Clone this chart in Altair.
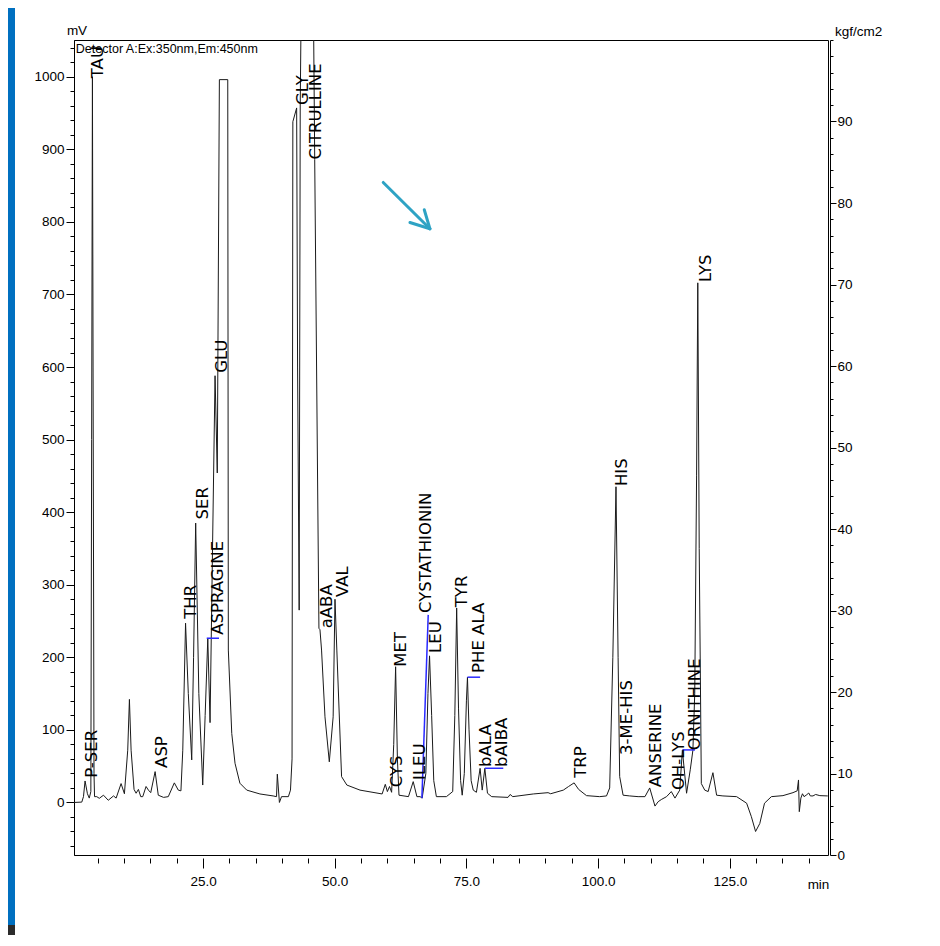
import altair as alt
import pandas as pd

# ---------------- data ----------------
# retention time (min) and detector signal (mV)
trace_t = [0.5, 1.98, 2.3, 2.6, 3.05, 3.4, 3.7, 3.85, 4.0, 4.12, 4.3, 4.4, 4.83, 5.3, 6.1, 7.0,
           8.0, 8.5, 9.44, 10.07, 10.7, 11.02, 11.34, 11.9, 12.29, 12.73, 13.17, 13.55, 14.18,
           14.63, 15.07, 15.9, 16.5, 17.5, 18.4, 19.55, 20.3, 20.8, 21.15, 21.68, 22.2, 22.85,
           23.2, 23.6, 24.2, 24.94, 25.4, 25.9, 26.33, 26.8, 27.28, 27.7, 28.1, 29.69, 29.8,
           30.45, 31.07, 32.0, 33.3, 35.8, 38.3, 38.95, 39.1, 39.5, 39.9, 41.2, 41.6, 41.9,
           42.05, 42.77, 42.95, 43.25, 43.45, 43.7, 45.9, 46.2, 47.0, 47.2, 47.5, 48.15, 48.97,
           49.7, 50.05, 50.4, 51.3, 52.3, 54.8, 59.0, 59.6, 60.0, 60.4, 60.8, 61.2, 61.56, 61.9,
           62.2, 64.0, 64.9, 65.6, 66.2, 66.6, 67.3, 67.7, 68.0, 68.4, 68.8, 69.3, 71.2, 72.4,
           72.8, 73.15, 73.5, 73.9, 74.2, 74.6, 75.0, 75.2, 75.5, 75.9, 76.3, 76.9, 77.6, 78.0,
           78.5, 79.0, 79.8, 82.9, 83.3, 83.8, 87.7, 90.5, 91.0, 93.4, 94.4, 95.45, 96.3, 97.8,
           100.3, 101.6, 102.2, 102.8, 103.4, 103.8, 104.1, 104.75, 106.0, 107.6, 108.9, 109.8,
           110.8, 111.4, 112.0, 113.0, 113.9, 114.6, 115.5, 116.0, 116.8, 117.5, 118.0, 118.35,
           118.7, 118.93, 119.2, 119.6, 120.25, 120.9, 121.8, 122.5, 123.7, 126.3, 128.2, 129.1,
           129.9, 130.7, 131.6, 132.9, 135.1, 137.0, 137.8, 138.05, 138.2, 138.5, 138.8, 139.1,
           139.5, 140.0, 140.3, 140.8, 141.3, 142.1, 143.6]
trace_mv = [0, 0.5, 8, 29.6, 12, 6, 15, 500, 1000, 600, 40, 8, 8, 5.7, 10, 3,
            9, 6, 26, 12, 72, 142, 72, 18, 12.7, 18, 8, 8, 22,
            17, 13.5, 42.5, 10, 7, 8, 27, 17, 16, 72, 247, 150, 58.6,
            200, 385, 150, 24, 120, 226, 110, 350, 588, 454, 996, 996, 210,
            95, 54, 26.5, 17, 11.7, 9, 8, 39, 0, 8, 8, 17, 60,
            938, 957, 600, 265, 961, 1150, 1150, 886, 240, 238, 210, 118, 56,
            118, 280, 210, 35.6, 24, 17, 11.7, 25, 15, 22, 14, 80, 187, 60,
            10, 8, 28.7, 8, 8, 6, 40, 150, 202, 120, 30, 8, 8, 15,
            120, 268, 130, 30, 10, 40, 140, 172.5, 100, 30, 17, 14, 47, 17,
            47, 12.7, 8, 7, 11, 8, 11.7, 13.5, 12, 17, 22, 27, 18, 9.4,
            8, 9, 20, 200, 435, 200, 35.6, 10, 9, 8, 8, 20,
            -5, 1, 4, 8, 15, 6, 17, 72, 12.7, 45, 72, 150,
            450, 716, 350, 26, 17, 15, 41, 10, 9, 8, -1, -19.6,
            -40, -29, -1, 8, 9.4, 13.5, 16, 31, -12.7, 6, 12, 8,
            10, 13, 9, 9, 11, 9.4, 9]

# peak names and where their labels start
peak_names = ["TAU", "P-SER", "ASP", "THR", "SER", "ASPRAGINE", "GLU", "GLY", "CITRULLINE",
              "aABA", "VAL", "CYS", "MET", "ILEU", "CYSTATHIONIN", "LEU", "TYR", "PHE ALA",
              "bALA", "bAIBA", "TRP", "HIS", "3-ME-HIS", "ANSERINE", "OH-LYS", "ORNITHINE", "LYS"]
label_t = [5.08, 3.94, 17.2, 22.8, 24.9, 27.85, 28.6, 44.0, 46.45,
           48.5, 51.5, 61.8, 62.6, 66.2, 67.4, 69.2, 74.2, 77.3,
           78.8, 81.8, 96.8, 104.5, 105.4, 111.0, 115.3, 118.4, 120.4]
label_mv = [998, 34, 47.6, 253, 390, 231, 592, 961, 886,
            240, 283, 21, 187, 31, 261, 206, 269, 178.5,
            49, 49, 34, 436, 65.5, 21, 17, 72, 717]

# blue integration marks (start/end of each segment)
blue_t1 = [25.7, 66.55, 75.2, 78.5, 116.0]
blue_mv1 = [226.3, 6, 172.6, 47.1, 72.4]
blue_t2 = [28.03, 67.75, 77.6, 82.0, 118.4]
blue_mv2 = [226.3, 258.5, 172.6, 47.1, 72.4]

# annotation arrow (shaft and two barbs)
arrow_t1 = [59.21, 64.28, 67.0]
arrow_mv1 = [854.3, 799.2, 816.7]
arrow_t2 = [68.07, 68.07, 68.07]
arrow_mv2 = [790.5, 790.5, 790.5]

x_major = [25, 50, 75, 100, 125]
x_minor = [5, 10, 15, 20, 30, 35, 40, 45, 55, 60, 65, 70, 80, 85, 90, 95, 105, 110, 115, 120, 130, 135, 140]
y_major = [0, 100, 200, 300, 400, 500, 600, 700, 800, 900, 1000]
y_minor = [-60, -40, -20, 20, 40, 60, 80, 120, 140, 160, 180, 220, 240, 260, 280, 320, 340, 360, 380,
           420, 440, 460, 480, 520, 540, 560, 580, 620, 640, 660, 680, 720, 740, 760, 780,
           820, 840, 860, 880, 920, 940, 960, 980, 1020, 1040]
p_major = [0, 10, 20, 30, 40, 50, 60, 70, 80, 90]
p_minor = [2, 4, 6, 8, 12, 14, 16, 18, 22, 24, 26, 28, 32, 34, 36, 38, 42, 44, 46, 48, 52, 54, 56, 58,
           62, 64, 66, 68, 72, 74, 76, 78, 82, 84, 86, 88, 92, 94, 96, 98, 100]

# ---------------- chart ----------------
W, H = 754, 815
X_DOMAIN = [0.5, 143.65]
Y_DOMAIN = [-72.4, 1050.6]
NARROW = "Liberation Sans"
LABEL_FONT = "DejaVu Sans"
TICK_FS = 13.5

xs = alt.Scale(domain=X_DOMAIN, nice=False, zero=False)
ys = alt.Scale(domain=Y_DOMAIN, nice=False, zero=False)

trace_df = pd.DataFrame({"t": trace_t, "mv": trace_mv, "i": list(range(len(trace_t)))})
labels_df = pd.DataFrame({"name": peak_names, "t": label_t, "mv": label_mv})
blue_df = pd.DataFrame({"t": blue_t1, "mv": blue_mv1, "t2": blue_t2, "mv2": blue_mv2})
arrow_df = pd.DataFrame({"t": arrow_t1, "mv": arrow_mv1, "t2": arrow_t2, "mv2": arrow_mv2})
det_df = pd.DataFrame({"t": [0.85], "mv": [1047.0], "txt": ["Detector A:Ex:350nm,Em:450nm"]})

x_axis = alt.Axis(values=x_major, format=".1f", orient="bottom", domain=False, offset=3,
                  tickSize=10, tickColor="black", labelFont=NARROW, labelFontSize=TICK_FS,
                  labelColor="black", labelPadding=6, grid=False, title="min",
                  titleFont=NARROW, titleFontSize=TICK_FS, titleFontWeight="normal",
                  titleColor="black", titleX=744, titleY=26, titleAlign="center",
                  titleBaseline="middle")
y_axis = alt.Axis(values=y_major, format="d", orient="left", domain=True, domainColor="black",
                  tickSize=8, tickColor="black", labelFont=NARROW, labelFontSize=TICK_FS,
                  labelColor="black", labelPadding=2, grid=False, title="mV",
                  titleFont=NARROW, titleFontSize=TICK_FS, titleFontWeight="normal",
                  titleColor="black", titleAngle=0, titleX=2.5, titleY=-10,
                  titleAlign="center", titleBaseline="middle")

trace = alt.Chart(trace_df).mark_line(color="#1a1a1a", strokeWidth=1, clip=True).encode(
    x=alt.X("t:Q", scale=xs, axis=x_axis),
    y=alt.Y("mv:Q", scale=ys, axis=y_axis),
    order="i:Q",
)

blue = alt.Chart(blue_df).mark_rule(color="#2a2aff", strokeWidth=1.5).encode(
    x=alt.X("t:Q", scale=xs), y=alt.Y("mv:Q", scale=ys), x2="t2:Q", y2="mv2:Q")

arrow = alt.Chart(arrow_df).mark_rule(color="#2ea3c4", strokeWidth=3, strokeCap="round").encode(
    x=alt.X("t:Q", scale=xs), y=alt.Y("mv:Q", scale=ys), x2="t2:Q", y2="mv2:Q")

labels = alt.Chart(labels_df).mark_text(angle=270, align="left", baseline="middle",
                                        font=LABEL_FONT, fontSize=16.5, color="black").encode(
    x=alt.X("t:Q", scale=xs), y=alt.Y("mv:Q", scale=ys), text="name:N")

det = alt.Chart(det_df).mark_text(align="left", baseline="top", font=NARROW, fontSize=12.5,
                                  color="black").encode(
    x=alt.X("t:Q", scale=xs), y=alt.Y("mv:Q", scale=ys), text="txt:N")

main = alt.layer(trace, blue, arrow, labels, det)

dummy = pd.DataFrame({"t": [1.0], "mv": [0.0], "p": [0.0]})

minor = alt.Chart(dummy).mark_point(opacity=0).encode(
    x=alt.X("t:Q", scale=xs, axis=alt.Axis(values=x_minor, orient="bottom", labels=False,
                                           domain=False, offset=3, tickSize=5, tickColor="black",
                                           grid=False, title=None)),
    y=alt.Y("mv:Q", scale=ys, axis=alt.Axis(values=y_minor, orient="left", labels=False,
                                            domain=False, tickSize=4, tickColor="black",
                                            grid=False, title=None)),
)

right = alt.Chart(dummy).mark_point(opacity=0).encode(
    y=alt.Y("p:Q", scale=alt.Scale(domain=[0, 100], nice=False, zero=False),
            axis=alt.Axis(values=p_major, orient="right", offset=2, domain=True,
                          domainColor="black", tickSize=6, tickColor="black",
                          labelFont=NARROW, labelFontSize=TICK_FS, labelColor="black",
                          labelPadding=1, grid=False, title="kgf/cm2", titleFont=NARROW,
                          titleFontSize=TICK_FS, titleFontWeight="normal", titleColor="black",
                          titleAngle=0, titleX=28, titleY=-9, titleAlign="center",
                          titleBaseline="middle")),
)

right_minor = alt.Chart(dummy).mark_point(opacity=0).encode(
    y=alt.Y("p:Q", scale=alt.Scale(domain=[0, 100], nice=False, zero=False),
            axis=alt.Axis(values=p_minor, orient="right", offset=2, domain=False, labels=False,
                          tickSize=3, tickColor="black", grid=False, title=None)),
)

strip = alt.Chart(dummy).mark_rect(color="#0070c0").encode(
    x=alt.value(-66), x2=alt.value(-59), y=alt.value(-32), y2=alt.value(885))
strip_dark = alt.Chart(dummy).mark_rect(color="#2b2b2b").encode(
    x=alt.value(-66), x2=alt.value(-59), y=alt.value(885), y2=alt.value(898))

chart = alt.layer(main, minor, right, right_minor, strip, strip_dark).resolve_scale(
    x="independent", y="independent"
).properties(
    width=W, height=H,
    autosize=alt.AutoSizeParams(type="none"),
    padding={"left": 66, "top": 32, "right": 100, "bottom": 80},
    background="white",
).configure_view(stroke="black", strokeWidth=1)

chart.save("out.html", embed_options={"renderer": "svg", "actions": False})
